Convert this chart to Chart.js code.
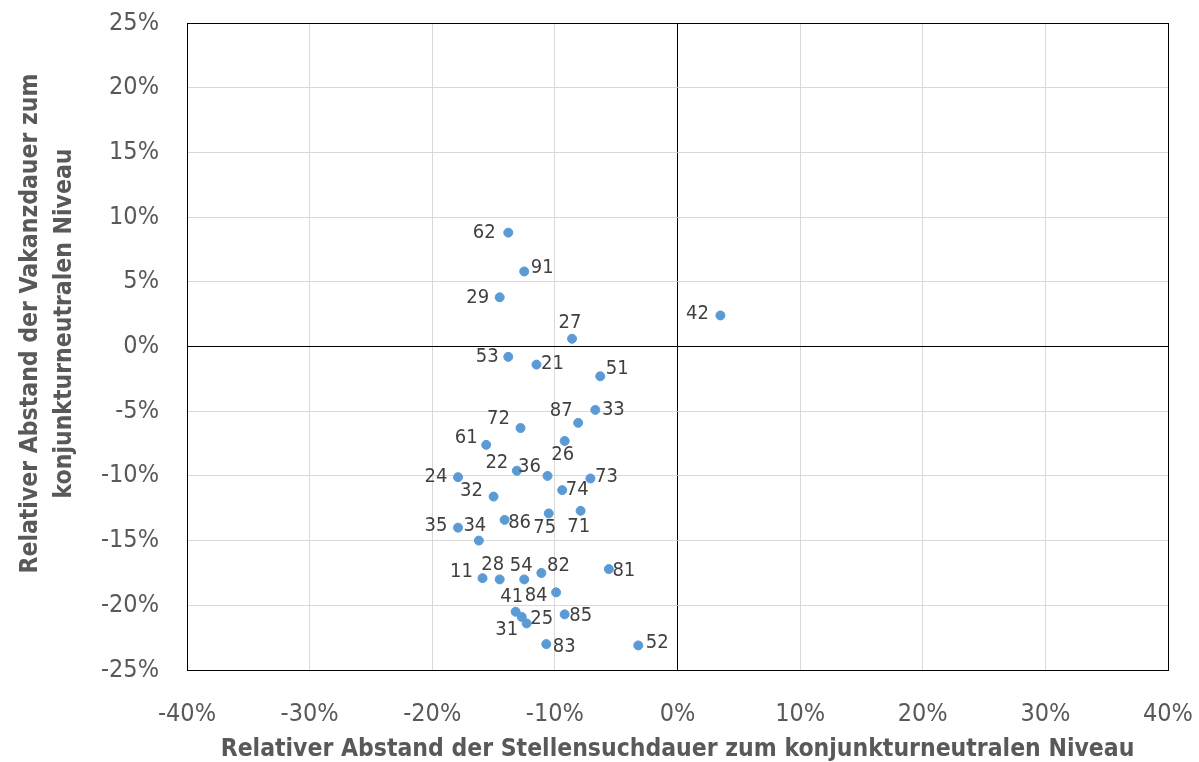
<!DOCTYPE html>
<html>
<head>
<meta charset="utf-8">
<script src="https://cdn.jsdelivr.net/npm/chart.js@4.4.1/dist/chart.umd.min.js"></script>
<style>
  html, body { margin: 0; padding: 0; background: #fff; }
  #wrap { width: 1199px; height: 762px; }
</style>
</head>
<body>
<div id="wrap"><canvas id="scatter"></canvas></div>
<script>
// region codes and their coordinates (percent)
const regions = ['62','91','29','27','42','53','21','51','33','87','72','61','26','22','36','24','73','74',
                 '32','71','75','86','35','34','11','28','54','82','81','84','41','25','31','85','83','52'];
const stellensuche = [-13.8,-12.5,-14.5,-8.6,3.5,-13.8,-11.5,-6.3,-6.7,-8.1,-12.8,-15.6,-9.2,-13.1,-10.6,-17.9,-7.1,-9.4,
                      -15.0,-7.9,-10.5,-14.1,-17.9,-16.2,-15.9,-14.5,-12.5,-11.1,-5.6,-9.9,-13.2,-12.7,-12.3,-9.2,-10.7,-3.2];
const vakanz = [8.8,5.8,3.8,0.6,2.4,-0.8,-1.4,-2.3,-4.9,-5.9,-6.3,-7.6,-7.3,-9.6,-10.0,-10.1,-10.2,-11.1,
                -11.6,-12.7,-12.9,-13.4,-14.0,-15.0,-17.9,-18.0,-18.0,-17.5,-17.2,-19.0,-20.5,-20.9,-21.4,-20.7,-23.0,-23.1];
const xTicks = [-40,-30,-20,-10,0,10,20,30,40];
const yTicks = [-25,-20,-15,-10,-5,0,5,10,15,20,25];

// where each label sits relative to its point
const labelOffset = {
  '62':[-24,0], '91':[18,-4], '29':[-22,0], '27':[-2,-16], '42':[-23,-2], '53':[-21,0], '21':[16,-1],
  '51':[17,-7], '33':[18,0], '87':[-17,-12], '72':[-22,-9], '61':[-20,-7], '26':[-2,14], '22':[-20,-8],
  '36':[-18,-9], '24':[-22,0], '73':[16,-2], '74':[15,0], '32':[-22,-6], '71':[-2,16], '75':[-4,14],
  '86':[15,3], '35':[-22,-2], '34':[-4,-15], '11':[-21,-6], '28':[-7,-15], '54':[-3,-14], '82':[17,-7],
  '81':[15,2], '84':[-20,3], '41':[-4,-15], '25':[20,2], '31':[-20,6], '85':[16,1], '83':[18,3], '52':[19,-3]
};

const FONT = "'DejaVu Sans Condensed', 'Open Sans', sans-serif";

const frameAndLabels = {
  id: 'frameAndLabels',
  afterDatasetsDraw(chart) {
    const { ctx } = chart;
    const meta = chart.getDatasetMeta(0);
    ctx.save();
    ctx.font = "20px " + FONT;
    ctx.fillStyle = '#404040';
    ctx.textAlign = 'center';
    ctx.textBaseline = 'middle';
    meta.data.forEach((pt, i) => {
      const off = labelOffset[regions[i]] || [16, 0];
      ctx.fillText(regions[i], pt.x + off[0], pt.y + off[1]);
    });
    ctx.restore();
  },
  afterDraw(chart) {
    const { ctx, chartArea: a } = chart;
    ctx.save();
    ctx.strokeStyle = '#000';
    ctx.lineWidth = 1;
    ctx.strokeRect(Math.round(a.left) + 0.5, Math.round(a.top) + 0.5,
                   Math.round(a.right - a.left), Math.round(a.bottom - a.top));
    ctx.restore();
  }
};

const gridColor = c => (c.tick && c.tick.value === 0) ? '#000000' : '#d9d9d9';

new Chart(document.getElementById('scatter'), {
  type: 'scatter',
  data: {
    datasets: [{
      data: regions.map((r, i) => ({ x: stellensuche[i], y: vakanz[i] })),
      backgroundColor: '#5b9bd5',
      borderColor: '#5b9bd5',
      pointRadius: 4.5,
      pointHoverRadius: 4.5
    }]
  },
  options: {
    responsive: true,
    maintainAspectRatio: false,
    animation: false,
    layout: { padding: { top: 23, right: 31, left: 0, bottom: 0 } },
    plugins: { legend: { display: false }, tooltip: { enabled: false } },
    scales: {
      x: {
        type: 'linear',
        min: -40, max: 40,
        afterBuildTicks: s => { s.ticks = xTicks.map(v => ({ value: v })); },
        afterFit: s => { s.height = 92; s.paddingLeft = 0; s.paddingRight = 0; },
        grid: { color: gridColor, drawTicks: false },
        border: { display: false },
        ticks: {
          padding: 29,
          color: '#595959',
          font: { family: FONT, size: 25 },
          callback: v => v + '%'
        },
        title: {
          display: true,
          text: 'Relativer Abstand der Stellensuchdauer zum konjunkturneutralen Niveau',
          color: '#595959',
          font: { family: FONT, size: 24.5, weight: 'bold', lineHeight: 1.0 },
          padding: { top: 0, bottom: 0 }
        }
      },
      y: {
        type: 'linear',
        min: -25, max: 25,
        afterBuildTicks: s => { s.ticks = yTicks.map(v => ({ value: v })); },
        afterFit: s => { s.width = 187; s.paddingTop = 0; s.paddingBottom = 0; },
        grid: { color: gridColor, drawTicks: false },
        border: { display: false },
        ticks: {
          padding: 28,
          color: '#595959',
          font: { family: FONT, size: 25 },
          callback: v => v + '%'
        },
        title: {
          display: true,
          // leading spaces nudge the rotated title up a little, as in the original
          text: ['      Relativer Abstand der Vakanzdauer zum', '      konjunkturneutralen Niveau'],
          color: '#595959',
          font: { family: FONT, size: 24.5, weight: 'bold', lineHeight: 1.4 },
          padding: { top: 13, bottom: 0 }
        }
      }
    }
  },
  plugins: [frameAndLabels]
});
</script>
</body>
</html>
